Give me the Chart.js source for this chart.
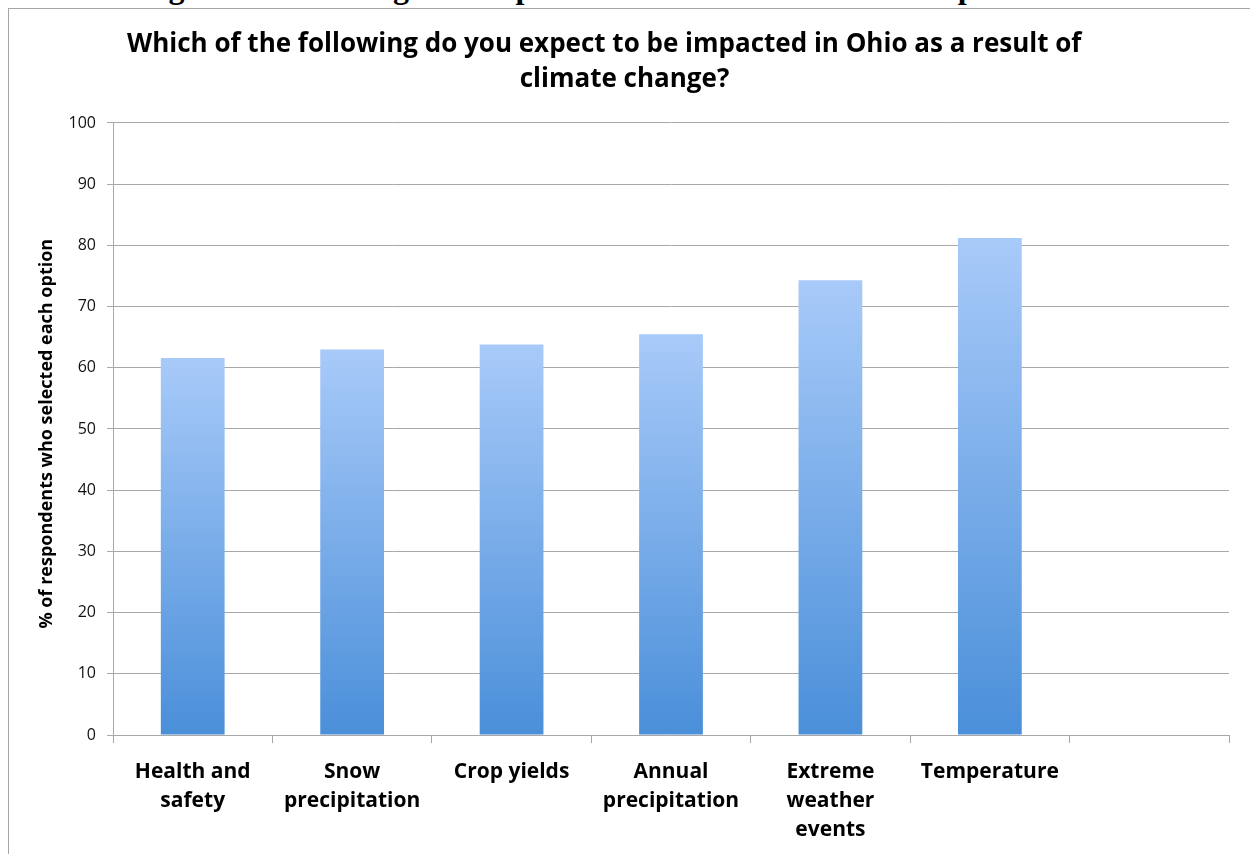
<!DOCTYPE html>
<html lang="en">
<head>
    <meta charset="UTF-8">
    <title>Ohio climate impacts</title>
    <style>
        html, body {
            margin: 0;
            padding: 0;
            background: white;
            overflow: hidden;
        }
        #page {
            position: relative;
            width: 1250px;
            height: 854px;
        }
        #caption {
            position: absolute;
            left: 140px;
            top: -29px;
            font-family: "Liberation Serif", "Times New Roman", serif;
            font-weight: bold;
            font-size: 32px;
            line-height: 32px;
            white-space: nowrap;
            color: black;
        }
        #frame {
            position: absolute;
            left: 8px;
            top: 8px;
            width: 1400px;
            height: 1000px;
            border-left: 1px solid #a6a6a6;
            border-top: 1px solid #a6a6a6;
            background: white;
        }
        #wrap {
            position: absolute;
            left: 0;
            top: 0;
            width: 1250px;
            height: 854px;
        }
    </style>
    <script src="https://cdn.jsdelivr.net/npm/chart.js"></script>
</head>
<body>
<div id="page">
    <div id="caption">Figure 1: Percentage of Respondents Who Selected Each Impact</div>
    <div id="frame"></div>
    <div id="wrap"><canvas id="impactChart"></canvas></div>
</div>
<script>
    // categories (last slot is empty in the original chart)
    const categories = [
        ['Health and', 'safety'],
        ['Snow', 'precipitation'],
        ['Crop yields'],
        ['Annual', 'precipitation'],
        ['Extreme', 'weather', 'events'],
        ['Temperature'],
        ''
    ];
    // % of respondents who selected each option
    const percentSelected = [61.6, 63.0, 63.8, 65.5, 74.3, 81.2];

    // trailing spaces kept from the wrapped title, they shift the first line a bit left
    const titleLines = [
        'Which of the following do you expect to be impacted in Ohio as a result of      ',
        'climate change?'
    ];
    const yAxisTitle = '% of respondents who selected each option  ';

    const FONT = '"Open Sans", "DejaVu Sans", sans-serif';

    function barGradient(context) {
        const chart = context.chart;
        if (!chart.chartArea || context.raw == null) {
            return '#78acea';
        }
        const y = chart.scales.y;
        const top = y.getPixelForValue(context.raw);
        const bottom = y.getPixelForValue(0);
        const g = chart.ctx.createLinearGradient(0, top, 0, bottom);
        g.addColorStop(0, '#a8caf9');
        g.addColorStop(1, '#4a8fd9');
        return g;
    }

    new Chart(document.getElementById('impactChart').getContext('2d'), {
        type: 'bar',
        data: {
            labels: categories,
            datasets: [{
                data: percentSelected,
                backgroundColor: barGradient,
                borderWidth: 0,
                barPercentage: 0.8,
                categoryPercentage: 0.5
            }]
        },
        options: {
            responsive: true,
            maintainAspectRatio: false,
            animation: false,
            layout: {
                padding: { top: 10, left: 20, right: 21, bottom: 0 }
            },
            plugins: {
                legend: { display: false },
                tooltip: { enabled: false },
                title: {
                    display: true,
                    text: titleLines,
                    color: '#000',
                    font: { family: FONT, size: 26, weight: 'bold', lineHeight: 1.346 },
                    padding: { top: 17, bottom: 26 }
                }
            },
            scales: {
                x: {
                    offset: true,
                    afterFit: function (scale) { scale.height = 119; },
                    grid: {
                        offset: true,
                        drawOnChartArea: false,
                        drawTicks: true,
                        tickLength: 8,
                        color: '#a8a8a8'
                    },
                    border: { display: true, color: '#a8a8a8' },
                    ticks: {
                        autoSkip: false,
                        maxRotation: 0,
                        minRotation: 0,
                        padding: 15,
                        color: '#000',
                        font: { family: FONT, size: 21, weight: 'bold', lineHeight: 1.38 }
                    }
                },
                y: {
                    min: 0,
                    max: 100,
                    afterFit: function (scale) { scale.width = 93; },
                    grid: {
                        color: '#a8a8a8',
                        tickLength: 6
                    },
                    border: { display: true, color: '#a8a8a8' },
                    ticks: {
                        stepSize: 10,
                        padding: 11,
                        color: '#111',
                        font: { family: FONT, size: 16 }
                    },
                    title: {
                        display: true,
                        text: yAxisTitle,
                        color: '#000',
                        font: { family: FONT, size: 18, weight: 'bold', lineHeight: 1.2 },
                        padding: { top: 16, bottom: 0 }
                    }
                }
            }
        }
    });
</script>
</body>
</html>
